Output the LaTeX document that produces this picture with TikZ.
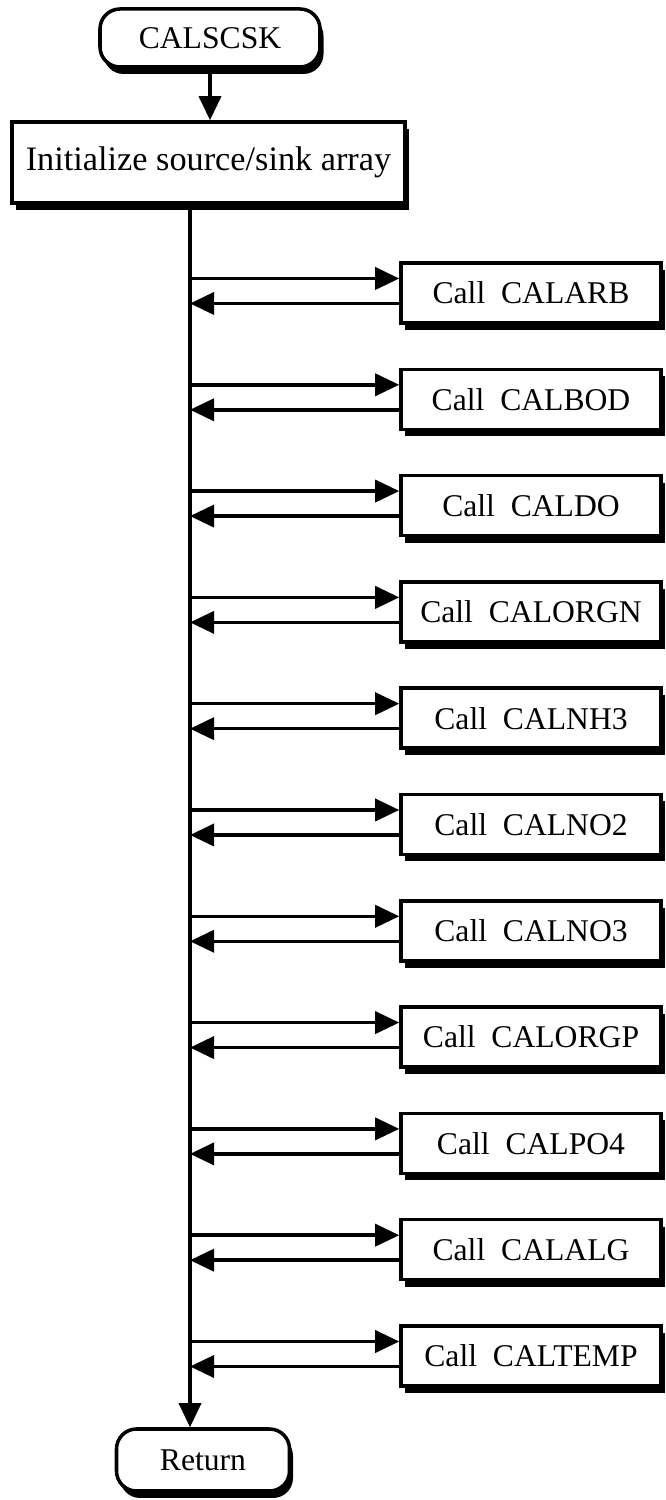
\documentclass[tikz,border=0pt]{standalone}
\usepackage{fontspec}
\setmainfont{Liberation Serif}
\usepackage{tikz}
\usetikzlibrary{arrows.meta,positioning,calc,shadows}

\tikzset{
  boxshadow/.style={drop shadow={shadow xshift=0.07cm,shadow yshift=-0.14cm,fill=black,opacity=1}},
  termbox/.style={draw,line width=2pt,fill=white,rounded corners=0.4cm,boxshadow,
    inner sep=0pt,font=\fontsize{18}{22}\selectfont},
  callbox/.style={draw,line width=2pt,fill=white,boxshadow,minimum width=5.2cm,
    minimum height=1.2cm,inner sep=0pt,font=\fontsize{18}{22}\selectfont},
}

\begin{document}
\begin{tikzpicture}[>={Triangle[length=0.48cm,width=0.44cm]},line width=2pt]
  \useasboundingbox (0,0) rectangle (13.32,30);
  \node[termbox,minimum width=4.4cm,minimum height=1.16cm] (start) at (4.2,29.24) {CALSCSK};
  \node[callbox,minimum width=7.86cm,minimum height=1.62cm,font=\fontsize{19.5}{23}\selectfont]
    (init) at (4.17,26.75) {Initialize source/sink array};
  \node[termbox,minimum width=3.46cm,minimum height=1.24cm] (ret) at (4.06,0.8) {Return};
  \coordinate (spine) at (3.8,26);
  \draw[->] (start.south) -- (start.south |- init.north);
  \draw[->] (init.south -| spine) -- (ret.north -| spine);
  % subroutine calls
  \foreach \name [count=\i from 0] in {CALARB,CALBOD,CALDO,CALORGN,CALNH3,CALNO2,
      CALNO3,CALORGP,CALPO4,CALALG,CALTEMP} {
    \node[callbox] (c\i) at (10.62,24.14-2.126*\i) {Call\enspace\name};
    \draw[->] ([yshift=0.29cm]c\i.west -| spine) -- ([yshift=0.29cm]c\i.west);
    \draw[->] ([yshift=-0.21cm]c\i.west) -- ([yshift=-0.21cm]c\i.west -| spine);
  }
\end{tikzpicture}
\end{document}
